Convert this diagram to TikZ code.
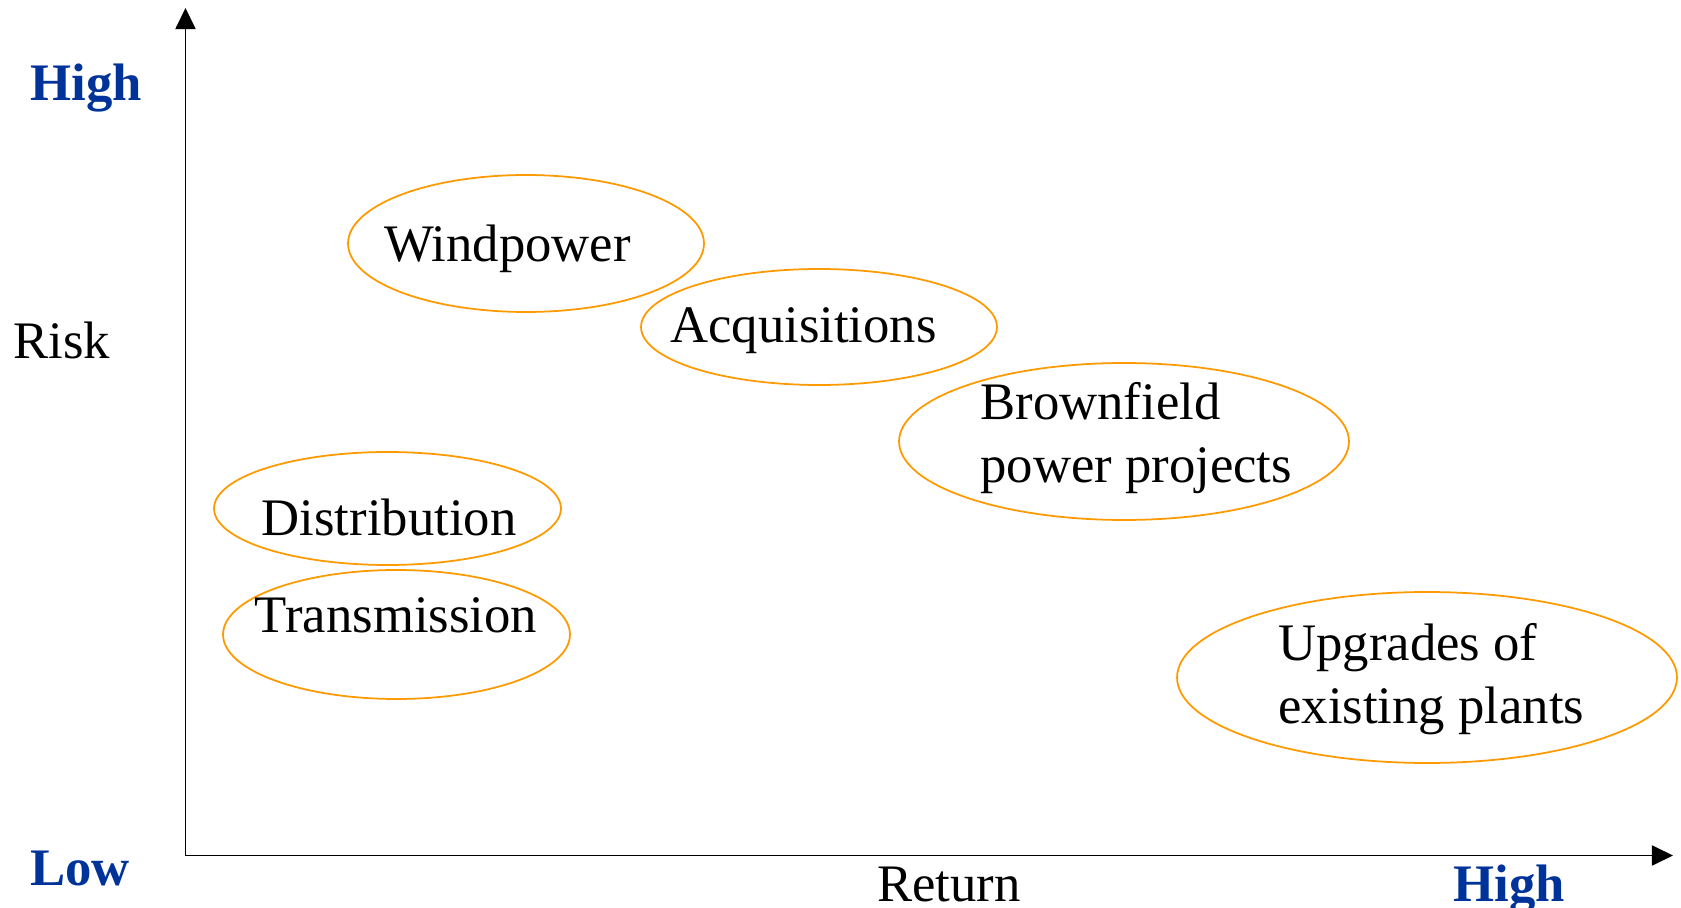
\documentclass[tikz,border=0pt]{standalone}
\usepackage{fontspec}
\setmainfont{Liberation Serif}
\usetikzlibrary{shapes.geometric,arrows.meta,positioning}

\definecolor{scaleblue}{HTML}{003399}
\definecolor{zoneorange}{HTML}{FF9900}

\tikzset{
    zone/.style={draw=zoneorange, line width=1pt, ellipse, inner sep=0pt},
    item/.style={font=\fontsize{30}{36}\selectfont, inner sep=0pt, align=left},
    scale end/.style={item, font=\fontsize{30}{36}\selectfont\bfseries, text=scaleblue},
    axis/.style={line width=1.1pt, -{Triangle[length=12pt,width=11.4pt]}},
}

\begin{document}
\begin{tikzpicture}[x=0.02cm, y=-0.02cm]
    \useasboundingbox (0,0) rectangle (1681,908);

    % axes
    \coordinate (origin) at (185.5,855.5);
    \coordinate (risktop) at (185.5,8);
    \coordinate (returnend) at (1673,855.5);
    \draw[axis] (origin) -- (risktop);
    \draw[axis] (origin) -- (returnend);

    % axis labels
    \node[item, anchor=base west] (risk) at (13,359) {Risk};
    \node[item, anchor=base west] (return) at (877,901) {Return};
    \node[scale end, anchor=base west] (riskhigh) at (30,101) {High};
    \node[scale end, anchor=base west] (risklow) at (30,885) {Low};
    \node[scale end, anchor=base west] (returnhigh) at (1453,901) {High};

    % business areas
    \node[zone, minimum width=7.12cm, minimum height=2.74cm] (wind) at (526,243.5) {};
    \node[item, anchor=base] (windtext) at (507.5,262) {Windpower};

    \node[zone, minimum width=7.12cm, minimum height=2.32cm] (acq) at (819,327) {};
    \node[item, anchor=base] (acqtext) at (803.5,343) {Acquisitions};

    \node[zone, minimum width=9cm, minimum height=3.14cm] (brown) at (1124,441.5) {};
    \node[item, anchor=base west] (browntext) at (980,483) {Brownfield\\power projects};

    \node[zone, minimum width=6.94cm, minimum height=2.26cm] (dist) at (387.5,508.5) {};
    \node[item, anchor=base] (disttext) at (389,536) {Distribution};

    \node[zone, minimum width=6.94cm, minimum height=2.58cm] (trans) at (396.5,634.5) {};
    \node[item, anchor=base] (transtext) at (396,632.5) {Transmission};

    \node[zone, minimum width=10cm, minimum height=3.42cm] (upg) at (1427,677.5) {};
    \node[item, anchor=base west] (upgtext) at (1278,724) {Upgrades of\\existing plants};
\end{tikzpicture}
\end{document}
